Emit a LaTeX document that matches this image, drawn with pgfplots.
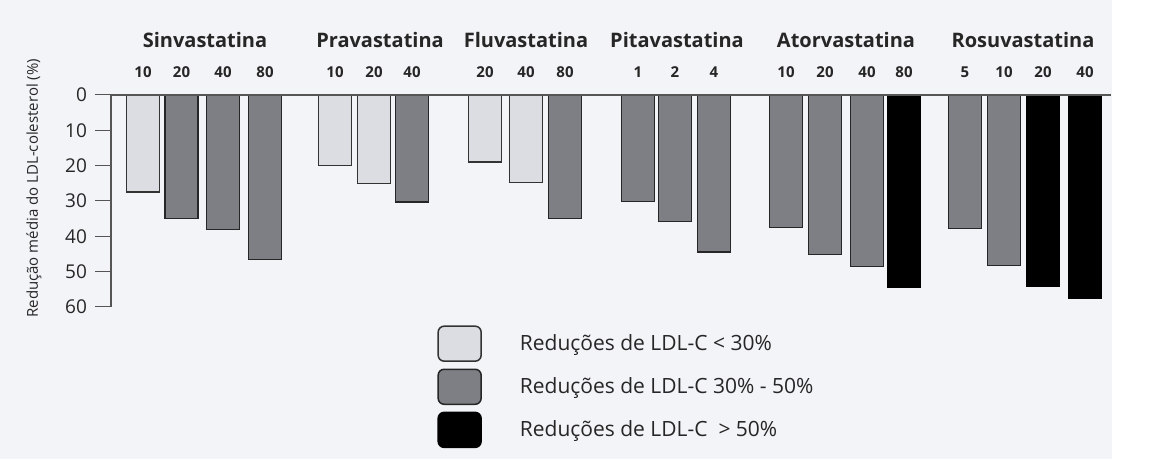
\documentclass[border=0pt]{standalone}
\usepackage{pgfplots}
\pgfplotsset{compat=1.18}
\usepackage{fontspec}
\setmainfont{Open Sans}
\definecolor{lightbar}{HTML}{DCDDE2}
\definecolor{midbar}{HTML}{7E7F84}
\definecolor{bgc}{HTML}{F3F4F7}
\definecolor{axc}{HTML}{555555}
\begin{document}
\begin{tikzpicture}
\fill[bgc] (0,0) rectangle (556pt,229.5pt);
\path (0,0) rectangle (577.5pt,229.5pt);
\begin{axis}[
  at={(55.5pt,76pt)}, anchor=south west,
  scale only axis, width=500pt, height=106pt,
  xmin=111, xmax=1111, ymin=0, ymax=60, y dir=reverse,
  axis line style={draw=none},
  clip=false,
  ytick={0,10,20,30,40,50,60}, ytick pos=left, tick align=outside,
  y tick style={axc, line width=0.5pt}, major tick length=8pt,
  /pgf/number format/assume math mode=true,
  yticklabel style={font=\fontsize{9.5}{10}\selectfont, text=black!85, xshift=-0.5pt},
  xtick={143,181.5,223,265,335,374,412,485,526,565,638,675,714,786,825,867,904,965,1004,1043,1085},
  xticklabels={10,20,40,80,10,20,40,20,40,80,1,2,4,10,20,40,80,5,10,20,40},
  x tick style={draw=none},
  xticklabel pos=upper,
  xticklabel style={font=\bfseries\fontsize{7.5}{8}\selectfont, text=black!85, yshift=-3pt},
  ylabel={Redução média do LDL-colesterol (\%)},
  ylabel style={at={(axis description cs:-0.077,0.56)}, anchor=center, font=\fontsize{7.5}{8}\selectfont, text=black!85},
  legend style={at={(axis description cs:0.326,-0.085)}, anchor=north west, draw=none, fill=none, inner sep=0pt, row sep=3.3pt, font=\fontsize{10.5}{12}\selectfont, text=black!85,
    /tikz/every odd column/.append style={column sep=17pt}},
  legend cell align=left,
  legbox/.style={legend image code/.code={\draw[##1, rounded corners=3pt] (0pt,-8.75pt) rectangle (21.5pt,8.75pt);}},
]
\addplot[ybar, bar width=33, bar shift=0pt, fill=lightbar, draw=black!80, line width=0.75pt, legbox]
  coordinates {(143,27.5) (335,20) (374,25) (485,19) (526,24.7)};
\addlegendentry{Reduções de LDL-C < 30\%}
\addplot[ybar, bar width=33, bar shift=0pt, fill=midbar, draw=black!85, line width=0.75pt, legbox]
  coordinates {(181.5,35) (223,38) (265,46.5) (412,30.3) (565,35) (638,30.2) (675,35.8) (714,44.4) (786,37.5) (825,45.1) (867,48.6) (965,37.8) (1004,48.2)};
\addlegendentry{Reduções de LDL-C 30\% - 50\%}
\addplot[ybar, bar width=33, bar shift=0pt, fill=black, draw=black, line width=0.75pt, legbox]
  coordinates {(904,54.3) (1043,54.1) (1085,57.6)};
\addlegendentry{Reduções de LDL-C~~> 50\%}
\draw[axc, line width=0.7pt] (axis cs:111,0) -- (axis cs:1111,0);
\draw[axc, line width=0.7pt] (axis cs:111,0) -- (axis cs:111,60);
\begin{scope}[every node/.style={font=\bfseries\fontsize{10}{11}\selectfont, text=black!85}]
\node at (axis cs:205,-15.6) {Sinvastatina};
\node at (axis cs:380,-15.6) {Pravastatina};
\node at (axis cs:526,-15.6) {Fluvastatina};
\node at (axis cs:677,-15.6) {Pitavastatina};
\node at (axis cs:846,-15.6) {Atorvastatina};
\node at (axis cs:1023,-15.6) {Rosuvastatina};
\end{scope}
\end{axis}
\end{tikzpicture}
\end{document}
